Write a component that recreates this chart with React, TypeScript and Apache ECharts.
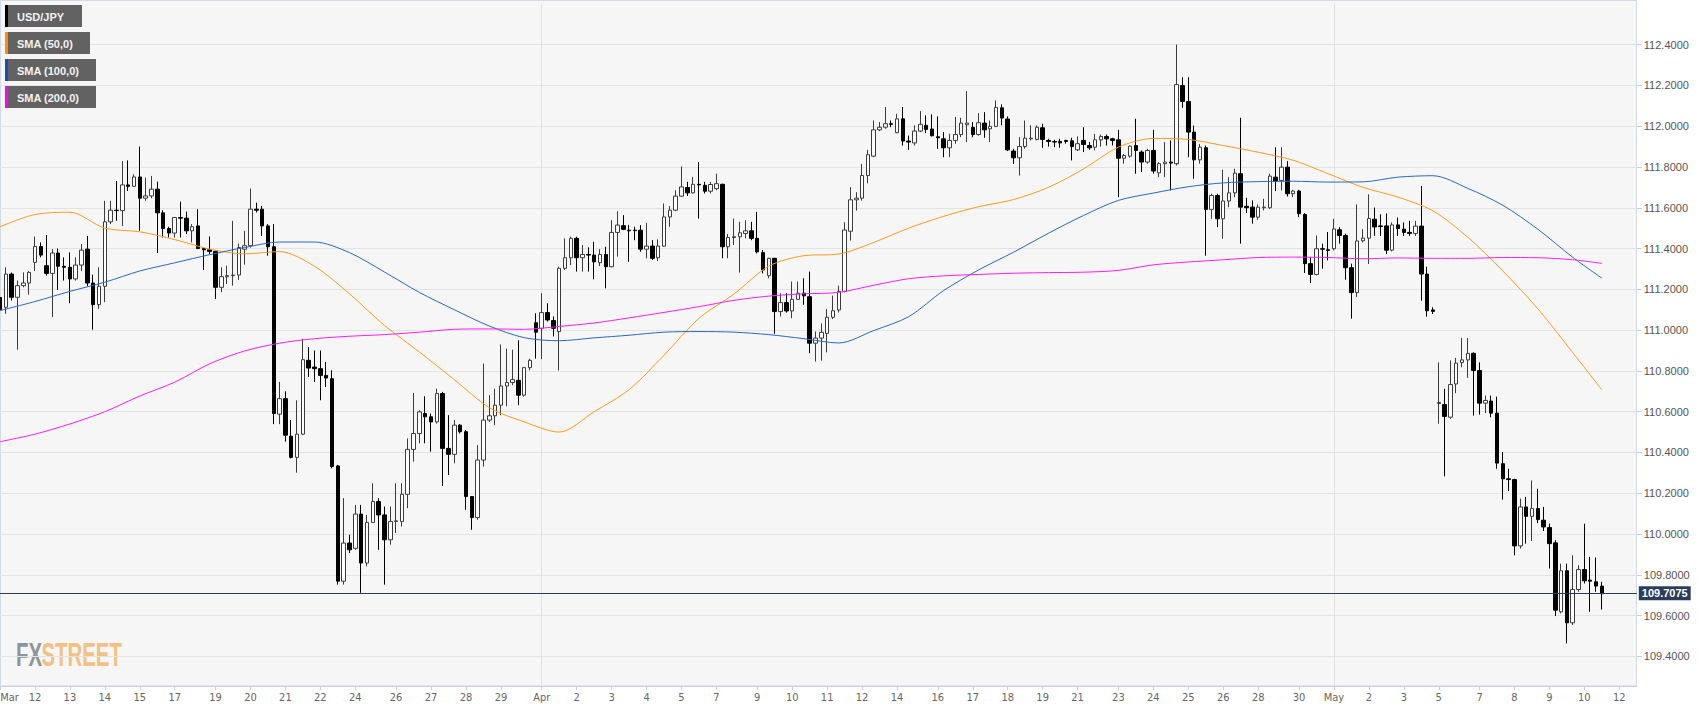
import React, { useEffect, useRef } from "react";
import * as echarts from "echarts";

// 4-hour USD/JPY candles, index 0 = Mon 11 Mar 2019
const opens = [
111.16,111.112,111.275,111.161,111.218,111.231,111.332,111.41,111.316,111.278,
111.378,111.313,111.308,111.251,111.319,111.397,111.231,111.125,111.215,111.531,
111.588,111.586,111.712,111.705,111.751,111.647,111.658,111.691,111.575,111.498,
111.476,111.552,111.549,111.487,111.511,111.4,111.394,111.386,111.21,111.262,
111.267,111.27,111.397,111.414,111.593,111.593,111.511,111.409,110.588,110.664,
110.48,110.376,110.49,110.852,110.819,110.811,110.778,110.762,110.334,109.769,
109.956,109.93,110.098,109.858,110.057,110.16,110.094,109.972,110.062,110.062,
110.195,110.415,110.493,110.591,110.575,110.55,110.689,110.42,110.391,110.534,
110.502,110.184,110.081,110.363,110.559,110.58,110.632,110.726,110.743,110.754,
110.681,110.816,111.036,111.009,111.086,111.047,110.993,111.303,111.355,111.45,
111.355,111.371,111.368,111.331,111.371,111.311,111.479,111.512,111.49,111.49,
111.49,111.397,111.412,111.355,111.412,111.555,111.588,111.657,111.699,111.673,
111.715,111.71,111.681,111.694,111.715,111.409,111.454,111.458,111.474,111.487,
111.45,111.38,111.267,111.352,111.091,111.135,111.094,111.151,111.181,111.164,
110.936,110.961,110.984,111.063,111.099,111.19,111.485,111.639,111.647,111.758,
111.853,111.982,111.995,112.012,111.968,112.036,111.927,111.918,111.976,112.004,
111.986,111.948,111.938,111.894,111.93,111.959,112.007,111.994,111.959,112.015,
111.987,111.999,112.09,112.035,111.878,111.845,111.9,111.938,111.935,111.992,
111.93,111.925,111.925,111.93,111.928,111.884,111.93,111.905,111.897,111.933,
111.949,111.938,111.933,111.843,111.853,111.905,111.873,111.824,111.881,111.771,
111.816,111.824,111.816,112.199,112.121,111.971,111.835,111.894,111.592,111.66,
111.546,111.633,111.673,111.767,111.607,111.603,111.554,111.6,111.6,111.75,
111.734,111.799,111.669,111.682,111.567,111.326,111.273,111.399,111.394,111.399,
111.492,111.464,111.306,111.184,111.438,111.451,111.544,111.511,111.511,111.392,
111.516,111.495,111.479,111.474,111.51,111.275,111.099,110.64,110.635,110.573,
110.736,110.841,110.854,110.886,110.802,110.642,110.652,110.593,110.345,110.271,
110.267,109.942,110.133,110.087,110.125,110.068,110.032,109.957,109.619,109.82,
109.565,109.728,109.826,109.774,109.766,109.745];

const closes = [
111.1,111.275,111.161,111.218,111.231,111.283,111.41,111.368,111.278,111.378,
111.313,111.308,111.251,111.319,111.392,111.231,111.125,111.215,111.531,111.588,
111.586,111.712,111.705,111.751,111.647,111.658,111.691,111.575,111.498,111.476,
111.552,111.549,111.487,111.507,111.4,111.394,111.386,111.21,111.262,111.267,
111.27,111.405,111.414,111.593,111.588,111.511,111.409,110.591,110.664,110.485,
110.376,110.49,110.855,110.814,110.811,110.778,110.765,110.331,109.769,109.956,
109.923,110.098,109.858,110.057,110.16,110.094,109.972,110.062,110.065,110.195,
110.415,110.493,110.599,110.575,110.55,110.689,110.42,110.391,110.534,110.502,
110.184,110.081,110.363,110.559,110.58,110.632,110.726,110.743,110.757,110.681,
110.816,110.852,110.99,111.086,111.05,111.009,111.303,111.355,111.45,111.355,
111.371,111.368,111.335,111.371,111.311,111.479,111.515,111.494,111.487,111.488,
111.397,111.412,111.352,111.412,111.555,111.588,111.657,111.702,111.673,111.715,
111.712,111.681,111.714,111.718,111.409,111.454,111.458,111.477,111.487,111.45,
111.384,111.295,111.352,111.091,111.135,111.094,111.151,111.181,111.168,110.936,
110.961,110.989,111.063,111.095,111.19,111.491,111.639,111.647,111.758,111.86,
111.982,111.995,112.012,112.009,112.036,111.927,111.922,111.976,112.009,111.984,
111.953,111.943,111.894,111.93,111.959,112.015,112.015,111.959,112.017,111.982,
111.999,112.092,112.04,111.884,111.845,111.9,111.941,111.941,111.995,111.935,
111.925,111.922,111.918,111.925,111.9,111.914,111.91,111.894,111.933,111.949,
111.938,111.93,111.843,111.856,111.902,111.881,111.824,111.881,111.78,111.816,
111.824,111.819,112.204,112.121,111.971,111.835,111.897,111.592,111.66,111.546,
111.633,111.673,111.77,111.603,111.6,111.554,111.603,111.603,111.755,111.731,
111.799,111.669,111.682,111.571,111.326,111.273,111.399,111.397,111.391,111.496,
111.464,111.306,111.184,111.437,111.451,111.547,111.506,111.508,111.392,111.516,
111.498,111.479,111.474,111.51,111.275,111.095,111.092,110.645,110.577,110.733,
110.838,110.854,110.886,110.802,110.642,110.655,110.593,110.348,110.271,110.267,
109.942,110.133,110.087,110.125,110.071,110.035,109.953,109.627,109.82,109.565,
109.728,109.826,109.771,109.769,109.745,109.7075];

const lows = [
110.88,111.08,111.145,110.904,111.21,111.174,111.29,111.357,111.267,111.064,
111.197,111.243,111.132,111.243,111.29,111.215,111.002,111.104,111.137,111.52,
111.536,111.511,111.682,111.702,111.487,111.634,111.647,111.378,111.454,111.454,
111.454,111.454,111.471,111.43,111.397,111.295,111.373,111.153,111.186,111.226,
111.218,111.246,111.321,111.405,111.577,111.462,111.365,110.539,110.539,110.453,
110.371,110.301,110.485,110.77,110.746,110.656,110.721,110.322,109.752,109.752,
109.907,109.923,109.712,109.842,110.054,109.923,109.752,109.948,110.005,110.037,
110.127,110.355,110.445,110.445,110.404,110.542,110.236,110.29,110.347,110.493,
110.119,110.021,110.07,110.331,110.55,110.534,110.583,110.627,110.73,110.632,
110.673,110.803,110.86,110.858,111.042,110.969,110.802,111.295,111.319,111.287,
111.287,111.287,111.249,111.314,111.205,111.308,111.36,111.49,111.335,111.441,
111.384,111.352,111.344,111.339,111.409,111.507,111.583,111.653,111.658,111.67,
111.547,111.67,111.67,111.686,111.352,111.352,111.417,111.282,111.45,111.441,
111.376,111.278,111.254,110.982,111.067,111.086,111.058,111.148,111.124,110.887,
110.846,110.85,110.891,111.054,111.087,111.185,111.439,111.586,111.635,111.72,
111.848,111.976,111.987,111.995,111.966,111.905,111.884,111.905,111.971,111.966,
111.95,111.889,111.848,111.848,111.914,111.946,111.922,111.946,111.954,111.943,
111.922,111.995,112.004,111.878,111.815,111.758,111.889,111.93,111.93,111.894,
111.9,111.897,111.894,111.914,111.832,111.878,111.873,111.884,111.881,111.9,
111.905,111.905,111.652,111.816,111.845,111.767,111.775,111.816,111.767,111.75,
111.75,111.685,111.807,112.09,111.848,111.742,111.816,111.365,111.546,111.505,
111.448,111.603,111.652,111.424,111.574,111.522,111.541,111.587,111.595,111.682,
111.685,111.655,111.652,111.554,111.28,111.231,111.269,111.301,111.342,111.391,
111.424,111.247,111.056,111.162,111.43,111.324,111.462,111.462,111.373,111.386,
111.462,111.462,111.462,111.462,111.144,111.066,111.079,110.541,110.283,110.565,
110.691,110.818,110.766,110.581,110.586,110.593,110.573,110.32,110.169,110.211,
109.896,109.929,109.953,109.966,110.054,110.015,109.831,109.598,109.611,109.464,
109.554,109.717,109.758,109.619,109.717,109.63];

const highs = [
111.22,111.308,111.283,111.243,111.283,111.29,111.459,111.43,111.466,111.397,
111.4,111.357,111.381,111.357,111.422,111.462,111.272,111.308,111.634,111.634,
111.731,111.829,111.832,111.764,111.9,111.748,111.756,111.728,111.588,111.507,
111.555,111.63,111.581,111.52,111.593,111.405,111.459,111.39,111.308,111.316,
111.536,111.425,111.487,111.694,111.625,111.609,111.52,111.52,110.746,110.7,
110.559,110.656,110.958,110.917,110.9,110.9,110.844,110.803,110.339,110.176,
109.997,110.143,110.143,110.094,110.249,110.176,110.135,110.135,110.249,110.249,
110.469,110.692,110.607,110.676,110.591,110.713,110.697,110.583,110.559,110.539,
110.51,110.184,110.436,110.836,110.681,110.713,110.93,110.909,110.904,110.95,
110.819,110.86,111.083,111.181,111.132,111.067,111.311,111.45,111.458,111.458,
111.417,111.406,111.433,111.397,111.409,111.539,111.583,111.564,111.515,111.507,
111.515,111.526,111.441,111.445,111.621,111.608,111.686,111.803,111.727,111.751,
111.824,111.727,111.727,111.767,111.718,111.471,111.547,111.531,111.539,111.531,
111.58,111.393,111.355,111.355,111.181,111.181,111.238,111.238,111.254,111.287,
110.993,111.033,111.103,111.169,111.218,111.529,111.701,111.676,111.815,111.884,
112.028,112.02,112.094,112.028,112.061,112.094,111.954,112.004,112.074,112.053,
112.058,112.048,111.971,111.963,112.045,112.041,112.172,112.02,112.064,112.069,
112.028,112.126,112.107,112.048,111.889,111.946,112.028,112.004,112.004,112.012,
111.938,111.933,111.938,111.933,111.943,111.95,111.995,111.922,111.962,111.959,
111.959,111.943,111.982,111.864,111.905,112.036,111.881,111.889,111.982,111.824,
111.922,111.93,112.4,112.24,112.24,112.003,111.913,111.905,111.669,111.669,
111.786,111.75,111.791,112.041,111.649,111.636,111.616,111.644,111.767,111.897,
111.897,111.829,111.688,111.688,111.574,111.358,111.464,111.424,111.481,111.546,
111.505,111.473,111.326,111.616,111.495,111.666,111.601,111.568,111.572,111.528,
111.552,111.528,111.536,111.536,111.707,111.311,111.112,110.842,110.712,110.851,
110.864,110.961,110.961,110.891,110.842,110.679,110.679,110.674,110.402,110.32,
110.271,110.174,110.182,110.263,110.222,110.133,110.051,109.97,109.855,109.855,
109.896,109.847,110.051,109.888,109.885,109.766];

// x-axis: candle index of each date label
const tickIdx = [0,6,12,18,24,30,37,43,49,55,61,68,74,80,86,93,99,105,111,117,123,130,136,142,148,154,161,167,173,179,185,192,198,204,210,216,223,229,235,241,247,254,260,266,272,278];
const tickLabels = ["Mar","12","13","14","15","17","19","20","21","22","24","26","27","28","29","Apr","2","3","4","5","7","9","10","11","12","14","16","17","18","19","21","23","24","25","26","28","30","May","2","3","5","7","8","9","10","12"];
const axisSlots = 282;

// moving averages at these candle indices
const smaIdx = [0,6,12,18,24,30,36,42,48,54,60,66,72,78,84,90,96,102,108,114,120,126,132,138,144,150,156,162,168,174,180,186,192,198,204,210,216,222,228,234,240,246,252,258,264,270,275];
const sma50 = [111.507,111.567,111.578,111.50,111.482,111.444,111.397,111.374,111.385,111.313,111.178,111.023,110.893,110.757,110.62,110.55,110.50,110.60,110.708,110.877,111.058,111.177,111.314,111.365,111.373,111.43,111.50,111.558,111.605,111.64,111.70,111.79,111.897,111.94,111.935,111.905,111.872,111.833,111.767,111.70,111.652,111.585,111.455,111.29,111.105,110.89,110.707];
const sma100 = [111.096,111.14,111.19,111.235,111.29,111.33,111.37,111.405,111.432,111.432,111.38,111.285,111.185,111.10,111.02,110.963,110.948,110.962,110.975,110.99,110.993,110.99,110.978,110.958,110.937,110.998,111.066,111.194,111.295,111.382,111.475,111.562,111.636,111.672,111.703,111.722,111.728,111.73,111.726,111.727,111.75,111.757,111.695,111.612,111.495,111.357,111.255];
const sma200 = [110.453,110.49,110.54,110.60,110.677,110.745,110.835,110.898,110.936,110.958,110.97,110.978,110.99,111.004,111.006,111.004,111.018,111.035,111.06,111.087,111.115,111.146,111.167,111.178,111.185,111.22,111.252,111.266,111.273,111.279,111.282,111.284,111.293,111.32,111.334,111.345,111.356,111.358,111.356,111.35,111.354,111.352,111.352,111.356,111.355,111.345,111.327];

const yMin = 109.2551;
const yMax = 112.6;

const legendNames = ["USD/JPY", "SMA (50,0)", "SMA (100,0)", "SMA (200,0)"];
const legendColors = ["#000000", "#ff8c00", "#1450b4", "#ff00ff"];
const lineColors = ["#ff9a1f", "#2a68bf", "#ff1cff"];

const FONT = '"Liberation Sans", Arial, sans-serif';
const NARROW = '"Liberation Sans Narrow", "DejaVu Sans Condensed", "Liberation Sans", sans-serif';

export default function App() {
  const ref = useRef<HTMLDivElement>(null);

  useEffect(() => {
    const chart = echarts.init(ref.current!, null, { renderer: "svg" });
    const cats = Array.from({ length: axisSlots }, (_, i) => "c" + i);
    const labelAt: Record<number, string> = {};
    tickIdx.forEach((t, k) => (labelAt[t] = tickLabels[k]));
    const isTick = (i: number) => labelAt[i] !== undefined;
    const isMonth = (i: number) => isTick(i) && i > 0 && isNaN(Number(labelAt[i]));
    const candles = opens.map((o, i) => [o, closes[i], lows[i], highs[i]]);
    const smaData = (arr: number[]) => arr.map((v, k) => [smaIdx[k], v]);
    const lastPrice = closes[closes.length - 1];

    const legendEls: any[] = [];
    const boxW = [77, 85, 91, 91];
    legendNames.forEach((name, k) => {
      const top = 5 + 27 * k;
      legendEls.push({
        type: "rect", z: 10, silent: true,
        shape: { x: 5, y: top, width: boxW[k], height: 22 },
        style: { fill: "#626262" },
      });
      legendEls.push({
        type: "rect", z: 11, silent: true,
        shape: { x: 5, y: top, width: 3, height: 22 },
        style: { fill: legendColors[k] },
      });
      legendEls.push({
        type: "text", z: 11, silent: true, x: 17, y: top + 11.5,
        style: { text: name, fill: "#f2f2f2", fontSize: 11, fontWeight: "bold", fontFamily: FONT, verticalAlign: "middle", align: "left" },
      });
    });

    chart.setOption({
      animation: false,
      textStyle: { fontFamily: FONT },
      grid: { left: 0, right: 70.2, top: 3.8, bottom: 26, containLabel: false, outerBoundsMode: "none" },
      graphic: {
        elements: [
          {
            type: "rect", z: -1, silent: true,
            shape: { x: 0.5, y: 0.5, width: 1636, height: 685.5 },
            style: { fill: "#f6f6f6", stroke: "#d2d9e7", lineWidth: 1 },
          },
          {
            type: "text", z: -1, silent: true, x: 16, y: 654, scaleX: 0.6,
            style: { text: "FX", fill: "#8e949c", fontSize: 34, fontWeight: "bold", fontFamily: FONT, verticalAlign: "middle", align: "left" },
          },
          {
            type: "text", z: -1, silent: true, x: 41.5, y: 654, scaleX: 0.6,
            style: { text: "STREET", fill: "#f3c184", fontSize: 34, fontWeight: "bold", fontFamily: FONT, verticalAlign: "middle", align: "left" },
          },
          ...legendEls,
        ],
      },
      xAxis: {
        type: "category",
        data: cats,
        boundaryGap: false,
        axisLine: { show: true, lineStyle: { color: "#c6cfe0", width: 1 } },
        axisTick: { show: true, interval: (i: number) => isTick(i), length: 4, lineStyle: { color: "#c6cfe0" } },
        axisLabel: {
          interval: (i: number) => isTick(i),
          formatter: (_v: string, i: number) => (i === 0 ? "{first|" + labelAt[0] + "}" : labelAt[i] ?? ""),
          color: "#666",
          fontSize: 11,
          fontFamily: NARROW,
          margin: 6,
          rich: { first: { padding: [0, 0, 0, 19], color: "#666", fontSize: 11, fontFamily: NARROW } },
        },
        splitLine: { show: true, interval: (i: number) => isMonth(i), lineStyle: { color: "#e2e2e2", width: 1 } },
      },
      yAxis: {
        type: "value",
        position: "right",
        min: yMin,
        max: yMax,
        splitNumber: 17,
        axisLine: { show: false },
        axisTick: { show: true, length: 5, lineStyle: { color: "#c6cfe0" } },
        axisLabel: {
          showMinLabel: false,
          showMaxLabel: false,
          formatter: (v: number) => v.toFixed(4),
          color: "#555",
          fontSize: 11,
          fontFamily: FONT,
          margin: 7,
        },
        splitLine: { show: true, showMinLine: false, showMaxLine: false, lineStyle: { color: "#e3e3e3", width: 1 } },
      },
      series: [
        {
          type: "candlestick",
          data: candles,
          barWidth: 4,
          z: 2,
          itemStyle: { color: "#ffffff", color0: "#000000", borderColor: "#3c3c3c", borderColor0: "#000000", borderWidth: 1 },
          emphasis: { disabled: true },
          markLine: {
            silent: true,
            symbol: ["none", "none"],
            data: [{ yAxis: lastPrice }],
            lineStyle: { color: "#2b3d5c", width: 1, type: "solid" },
            label: {
              show: true,
              position: "end",
              distance: 2,
              formatter: () => lastPrice.toFixed(4),
              color: "#ffffff",
              fontWeight: "bold",
              fontSize: 11,
              fontFamily: FONT,
              backgroundColor: "#2b3d5c",
              padding: [2, 3, 1, 3],
            },
          },
        },
        ...[sma50, sma100, sma200].map((arr, k) => ({
          type: "line",
          data: smaData(arr),
          smooth: 0.3,
          symbol: "none",
          showSymbol: false,
          z: 3,
          lineStyle: { color: lineColors[k], width: 1 },
          emphasis: { disabled: true },
        })),
      ],
    });

    return () => chart.dispose();
  }, []);

  return (
    <div
      ref={ref}
      style={{ position: "fixed", left: 0, top: 0, width: 1707, height: 712, background: "#ffffff" }}
    />
  );
}
